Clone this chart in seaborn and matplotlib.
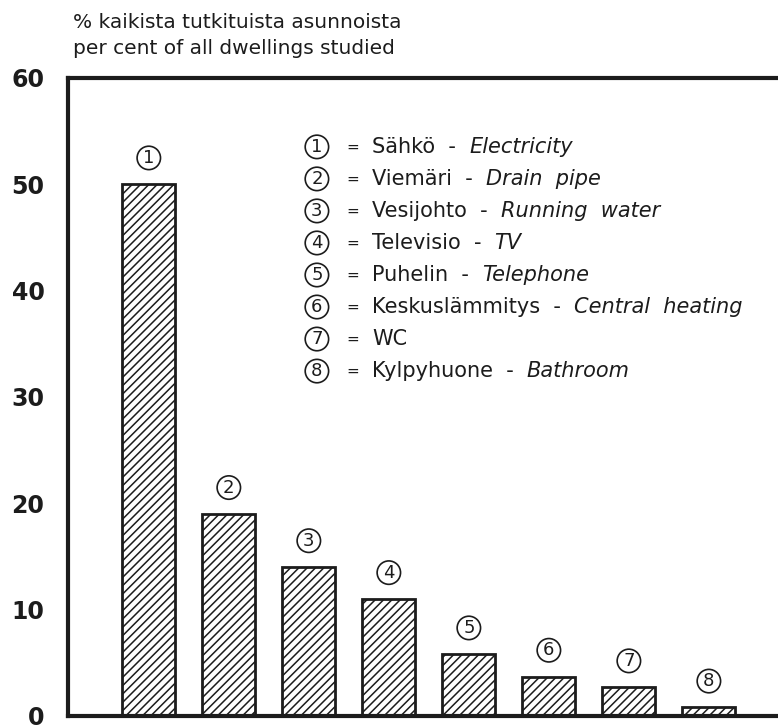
import matplotlib
matplotlib.use("Agg")
import matplotlib.pyplot as plt
import seaborn as sns
import pandas as pd

# data
items = ["1", "2", "3", "4", "5", "6", "7", "8"]
values = [50, 19, 14, 11, 5.8, 3.7, 2.7, 0.8]
finnish = ["Sähkö", "Viemäri", "Vesijohto", "Televisio", "Puhelin",
           "Keskuslämmitys", "WC", "Kylpyhuone"]
english = ["Electricity", "Drain  pipe", "Running  water", "TV", "Telephone",
           "Central  heating", "", "Bathroom"]
yticks = [0, 10, 20, 30, 40, 50, 60]
title_fi = "% kaikista tutkituista asunnoista"
title_en = "per cent of all dwellings studied"

ink = "#1c1c1c"

sns.set_theme(style="white")
plt.rcParams["font.family"] = ["DejaVu Sans"]
plt.rcParams["hatch.linewidth"] = 1.1
plt.rcParams["hatch.color"] = ink

df = pd.DataFrame({"item": items, "value": values})

fig = plt.figure(figsize=(7.78, 7.26), dpi=100)
ax = fig.add_axes([0.0874, 0.0138, 0.941, 0.8788])

sns.barplot(data=df, x="item", y="value", ax=ax, color="white",
            edgecolor=ink, linewidth=2.0, hatch="////", width=0.66,
            errorbar=None, saturation=1)

ax.set_xlim(-1.01, 8.14)
ax.set_ylim(0, 60)
ax.set_yticks(yticks)
ax.set_xticks([])
ax.set_xlabel("")
ax.set_ylabel("")
ax.tick_params(axis="y", direction="in", length=10, width=2, pad=17,
               labelsize=17, colors=ink)
for lbl in ax.get_yticklabels():
    lbl.set_fontweight("bold")
for side in ["left", "top", "bottom", "right"]:
    ax.spines[side].set_linewidth(3)
    ax.spines[side].set_color(ink)
    ax.spines[side].set_visible(True)

# circled numbers above the bars
circle = dict(boxstyle="circle,pad=0.15", fc="white", ec=ink, lw=1.2)
for i, (name, v) in enumerate(zip(items, values)):
    ax.annotate(name, xy=(i, v), xytext=(0, 19), textcoords="offset points",
                ha="center", va="center", fontsize=13, color=ink, bbox=circle)

# key inside the plot
x0, y0, step = 0.340, 0.892, 0.0502
for k, (num, fi, en) in enumerate(zip(items, finnish, english)):
    y = y0 - k * step
    ax.text(x0, y, num, transform=ax.transAxes, ha="center", va="center",
            fontsize=13, color=ink, bbox=circle)
    ax.text(0.389, y, "=", transform=ax.transAxes, ha="center", va="center",
            fontsize=11, color=ink)
    t = ax.text(0.415, y, fi + ("  -  " if en else ""), transform=ax.transAxes,
                ha="left", va="center", fontsize=15, color=ink)
    if en:
        ax.annotate(en, xy=(1, 0), xycoords=t, ha="left", va="bottom",
                    fontsize=15, style="italic", color=ink)

fig.text(73 / 778, 1 - 22 / 726, title_fi, ha="left", va="center",
         fontsize=14.5, color=ink)
fig.text(73 / 778, 1 - 48 / 726, title_en, ha="left", va="center",
         fontsize=14.5, color=ink)

fig.savefig("out.png", dpi=100)
plt.close(fig)
